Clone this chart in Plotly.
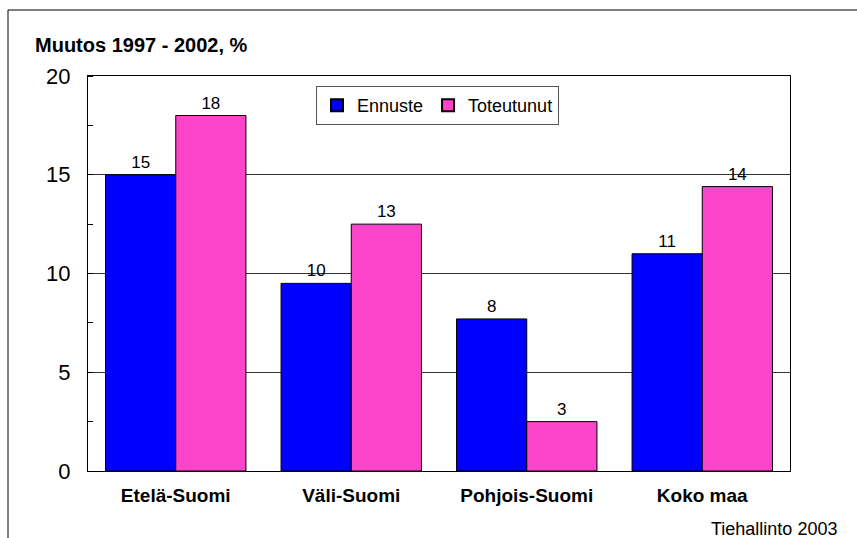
import plotly.graph_objects as go

categories = ["Etelä-Suomi", "Väli-Suomi", "Pohjois-Suomi", "Koko maa"]
ennuste = [15.0, 9.5, 7.7, 11.0]
toteutunut = [18.0, 12.5, 2.5, 14.4]
series_names = ["Ennuste", "Toteutunut"]
y_ticks = [0, 5, 10, 15, 20]
title_text = "Muutos 1997 - 2002, %"
source_text = "Tiehallinto 2003"

FONT = "Liberation Sans, Arial, sans-serif"

fig = go.Figure()
fig.add_trace(go.Bar(
    x=categories, y=ennuste, name=series_names[0],
    marker=dict(color="#0000FF", line=dict(color="black", width=1)),
    texttemplate="%{y:.0f}", textposition="outside",
    textfont=dict(size=17, color="black", family=FONT), cliponaxis=False,
))
fig.add_trace(go.Bar(
    x=categories, y=toteutunut, name=series_names[1],
    marker=dict(color="#FF44CC", line=dict(color="black", width=1)),
    texttemplate="%{y:.0f}", textposition="outside",
    textfont=dict(size=17, color="black", family=FONT), cliponaxis=False,
))

L, R, T, B = 88, 67, 76, 67
W, H = 857, 538
pw, ph = W - L - R, H - T - B

def px(x):
    return (x - L) / pw

def py(y):
    return (H - B - y) / ph

fig.update_layout(
    width=W, height=H,
    margin=dict(l=L, r=R, t=T, b=B),
    paper_bgcolor="white", plot_bgcolor="white",
    font=dict(family=FONT, color="black"),
    barmode="group", bargap=0.2, bargroupgap=0,
    showlegend=True,
    legend=dict(
        orientation="h", x=px(316), y=py(86), xanchor="left", yanchor="top",
        bordercolor="#555555", borderwidth=1, bgcolor="white",
        font=dict(size=18, family=FONT), itemsizing="constant",
        traceorder="normal", itemwidth=30,
    ),
    xaxis=dict(
        showline=True, mirror=True, linecolor="black", linewidth=1,
        tickfont=dict(size=19, family="Liberation Sans, Arial", weight="bold"),
        ticks="", showgrid=False, ticklabelstandoff=7,
    ),
    yaxis=dict(
        range=[0, 20], tickvals=y_ticks,
        showline=True, mirror=True, linecolor="black", linewidth=1,
        showgrid=True, gridcolor="#333333", gridwidth=1,
        ticks="", tickfont=dict(size=22, family=FONT),
        ticklabelstandoff=12, zeroline=False,
        minor=dict(ticks="inside", ticklen=5, tickcolor="black", dtick=2.5, showgrid=False),
    ),
    shapes=[
        dict(type="line", xref="paper", yref="paper", x0=px(8), x1=px(857), y0=py(10), y1=py(10),
             line=dict(color="black", width=1)),
        dict(type="line", xref="paper", yref="paper", x0=px(8), x1=px(8), y0=py(10), y1=py(538),
             line=dict(color="black", width=1)),
    ],
    annotations=[
        dict(text="<b>" + title_text + "</b>", xref="paper", yref="paper",
             x=px(33), y=py(45), xanchor="left", yanchor="middle", showarrow=False,
             font=dict(size=20, family=FONT)),
        dict(text=source_text, xref="paper", yref="paper",
             x=px(839), y=py(529), xanchor="right", yanchor="middle", showarrow=False,
             font=dict(size=18, family=FONT)),
    ],
)

fig.write_html("out.html", config={"displayModeBar": False},
               post_script="document.body.style.margin='0';")
